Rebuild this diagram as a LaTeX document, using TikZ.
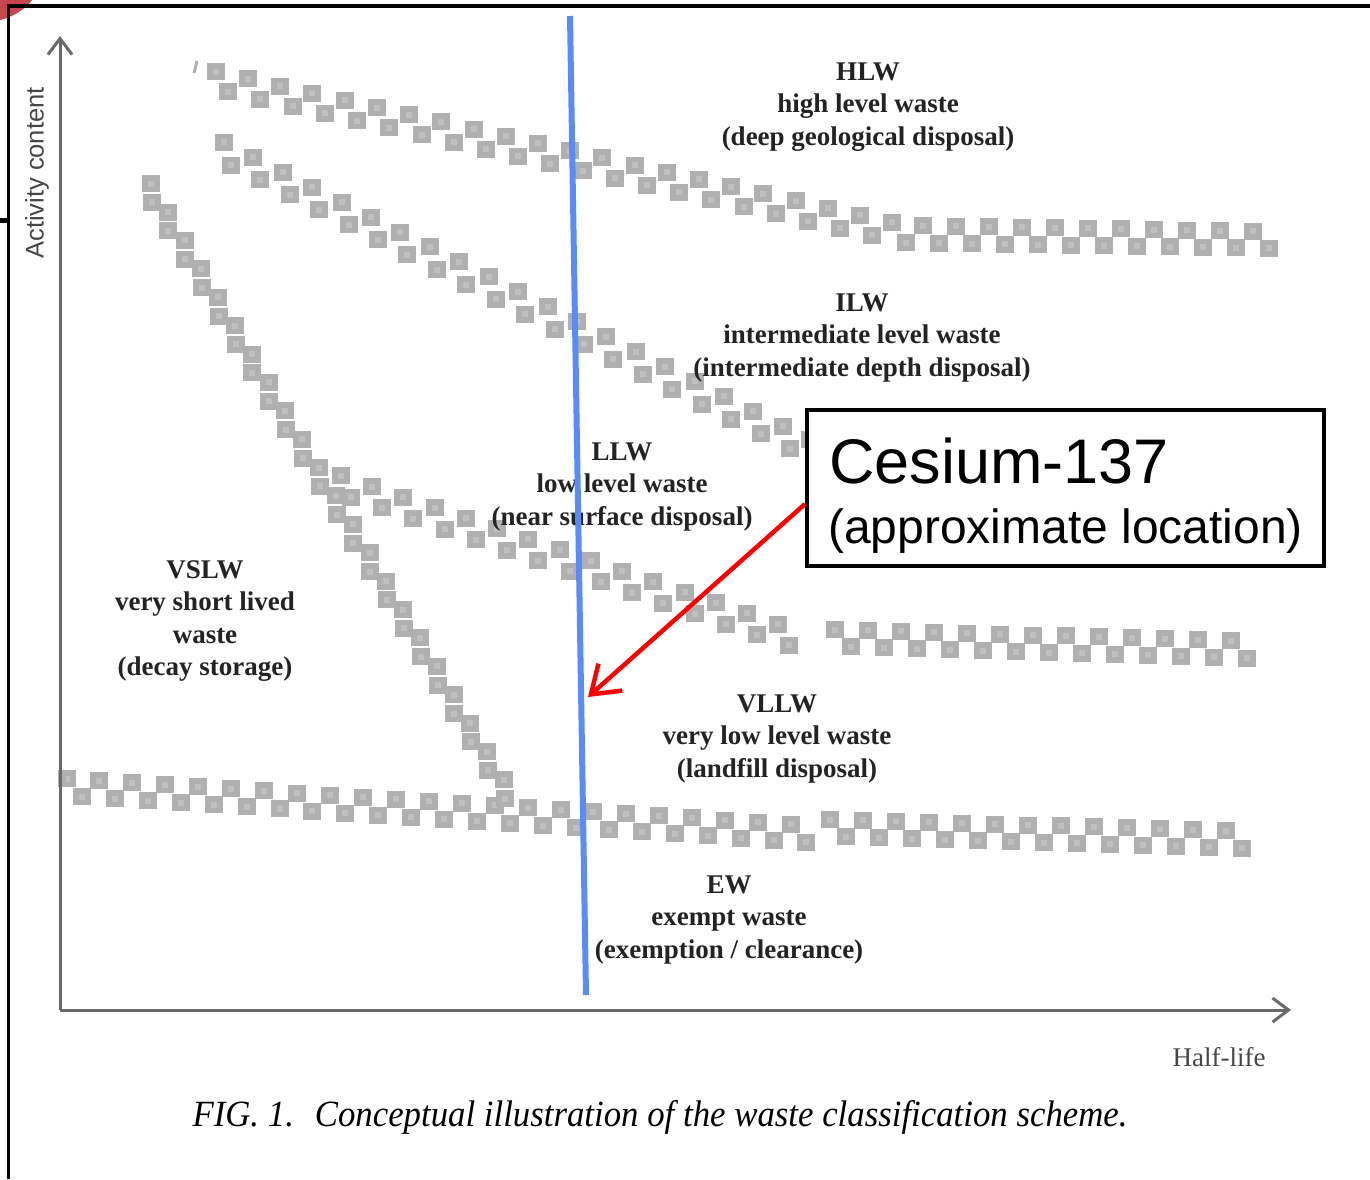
\documentclass[tikz,border=0pt]{standalone}
\usepackage{fontspec}
\setmainfont{Liberation Serif}
\setsansfont{Liberation Sans}
\usetikzlibrary{decorations.markings,arrows.meta}
\definecolor{cellgray}{RGB}{176,176,176}
\definecolor{cellcore}{RGB}{192,192,192}
\definecolor{axisgray}{RGB}{105,105,105}
\definecolor{labelink}{RGB}{35,35,35}
\definecolor{softink}{RGB}{70,70,70}
\definecolor{markerblue}{RGB}{88,140,248}
\definecolor{cornerred}{RGB}{200,70,80}
\newcount\cellidx
\newdimen\celloff
\newsavebox\capbox
\begin{document}
\sbox\capbox{\itshape\fontsize{37}{40}\selectfont FIG.~1.\hspace{0.6em}Conceptual illustration of the waste classification scheme.}
\begin{tikzpicture}[x=1pt,y=-1pt,
  band/.style={
    postaction={decorate},
    decoration={markings,
      mark=between positions 0 and 1 step 16.5pt with {
        \global\advance\cellidx by 1\relax
        \ifodd\cellidx
          \pgftransformshift{\pgfpoint{0pt}{\celloff}}%
        \else
          \pgftransformshift{\pgfpoint{0pt}{-\celloff}}%
        \fi
        \pgftransformresetnontranslations
        \fill[cellgray] (-9pt,-8.5pt) rectangle (9pt,8.5pt);
        \fill[cellcore] (-3pt,-3pt) rectangle (3pt,3pt);
      }}},
  lbl/.style={font=\bfseries\fontsize{27}{32.5}\selectfont, text=labelink, align=center, inner sep=0pt},
  axis/.style={axisgray, line width=3pt, -{Straight Barb[length=16pt,width=24pt]}},
  frameline/.style={black, line width=3.5pt}
]
\useasboundingbox (0,0) rectangle (1370,1179);

% corner decoration and page frame
\fill[cornerred] (-15,-40) circle[radius=62];
\draw[frameline, line join=miter] (8.5,1179) -- (8.5,6) -- (1370,6);
\draw[black, line width=5pt] (0,220) -- (8.5,220);

% class boundaries drawn as checkered bands
\global\celloff=8.5pt
\global\cellidx=0
\path[band] (214,80) -- (905,234) -- (1278,240);
\global\cellidx=0
\path[band] (220,150) -- (805,447) -- (880,458) -- (1280,460);
\global\cellidx=0
\path[band] (338,484) -- (805,642);
\global\cellidx=0
\path[band] (835,638) -- (1262,650);
\global\cellidx=0
\path[band] (66,787) -- (812,834);
\global\cellidx=0
\path[band] (830,828) -- (1258,840);
\global\celloff=4.5pt
\global\cellidx=0
\path[band] (147,186) -- (512,802);
\draw[cellgray, line width=3pt] (194,73) -- (197,61);
\draw[cellgray, line width=3pt] (64,787) -- (65,771);

% axes
\coordinate (origin) at (60,1010);
\coordinate (ytop) at (60,36);
\coordinate (xend) at (1291,1010);
\draw[axis] (origin) -- (ytop);
\draw[axis] (origin) -- (xend);
\node[rotate=90, font=\sffamily\fontsize{25.5}{28}\selectfont, text=softink] (ylab) at (37,173) {Activity content};
\node[font=\fontsize{27}{30}\selectfont, text=softink] (xlab) at (1219,1057) {Half-life};

% class labels
\node[lbl] (hlw) at (868,107) {HLW\\high level waste\\(deep geological disposal)};
\node[lbl] (ilw) at (862,338) {ILW\\intermediate level waste\\(intermediate depth disposal)};
\node[lbl] (llw) at (622,487) {LLW\\low level waste\\(near surface disposal)};
\node[lbl] (vslw) at (205,621) {VSLW\\very short lived\\waste\\(decay storage)};
\node[lbl] (vllw) at (777,739) {VLLW\\very low level waste\\(landfill disposal)};
\node[lbl] (ew) at (729,920) {EW\\exempt waste\\(exemption / clearance)};

% caption
\node[text=softink, inner sep=0pt] (caption) at (660,1117) {\scalebox{\fpeval{935/(\the\wd\capbox)}}[1]{\usebox\capbox}};

% half-life marker line
\coordinate (bluetop) at (570,16);
\coordinate (bluebottom) at (586,995);
\draw[markerblue, line width=6pt] (bluetop) -- (bluebottom);

% callout box with pointer
\node[draw, line width=4pt, fill=white, minimum width=517pt, minimum height=156pt, inner sep=0pt] (cs) at (1065.5,488) {};
\node[anchor=base west, font=\sffamily\fontsize{63}{70}\selectfont, inner sep=0pt] (csname) at (829,483) {Cesium-137};
\node[anchor=base west, font=\sffamily\fontsize{48}{55}\selectfont, inner sep=0pt] (csnote) at (828,543) {(approximate location)};
\coordinate (cstip) at (588,697);
\draw[red, line width=4.5pt, -{Straight Barb[length=26pt,width=36pt]}] ([yshift=-16pt]cs.west) -- (cstip);
\end{tikzpicture}
\end{document}
